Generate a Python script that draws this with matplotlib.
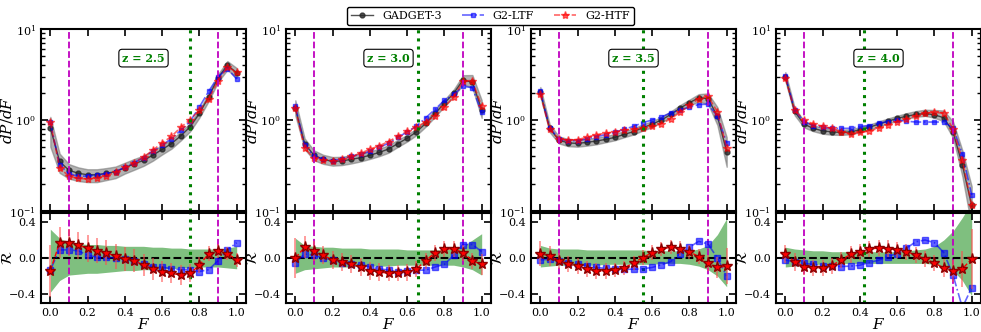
import numpy as np
import matplotlib
matplotlib.use("Agg")
import matplotlib.pyplot as plt

plt.rcParams['font.family'] = ['DejaVu Serif']
plt.rcParams['mathtext.fontset'] = 'dejavuserif'
plt.rcParams['axes.linewidth'] = 1.5

F = np.linspace(0.0, 1.0, 21)
redshifts = ['2.5', '3.0', '3.5', '4.0']
f_cut = [0.75, 0.66, 0.55, 0.42]

# dP/dF, z = 2.5
g3_z25 = [0.82, 0.35, 0.28, 0.26, 0.25, 0.25, 0.26, 0.27, 0.30, 0.33, 0.36, 0.41, 0.475, 0.55, 0.67, 0.84, 1.18, 1.8, 2.9, 4.0, 3.3]
ltf_z25 = [0.94, 0.32, 0.257, 0.24, 0.243, 0.248, 0.257, 0.27, 0.303, 0.34, 0.387, 0.456, 0.528, 0.625, 0.77, 0.966, 1.39, 2.07, 2.99, 3.67, 2.82]
htf_z25 = [0.95, 0.30, 0.24, 0.228, 0.225, 0.231, 0.245, 0.265, 0.303, 0.34, 0.39, 0.466, 0.56, 0.66, 0.83, 1.01, 1.28, 1.71, 2.69, 3.8, 3.37]
# dP/dF, z = 3.0
g3_z30 = [1.35, 0.55, 0.41, 0.37, 0.35, 0.355, 0.37, 0.385, 0.41, 0.44, 0.48, 0.55, 0.63, 0.74, 0.92, 1.18, 1.53, 1.97, 2.75, 2.6, 1.3]
ltf_z30 = [1.42, 0.526, 0.40, 0.37, 0.357, 0.374, 0.398, 0.418, 0.456, 0.50, 0.555, 0.647, 0.737, 0.856, 1.06, 1.31, 1.65, 1.91, 2.35, 2.26, 1.21]
htf_z30 = [1.35, 0.49, 0.38, 0.36, 0.357, 0.37, 0.40, 0.43, 0.477, 0.52, 0.58, 0.66, 0.75, 0.84, 0.95, 1.11, 1.39, 1.79, 2.65, 2.68, 1.42]
# dP/dF, z = 3.5
g3_z35 = [2.02, 0.81, 0.60, 0.56, 0.553, 0.568, 0.587, 0.612, 0.644, 0.695, 0.744, 0.823, 0.90, 1.0, 1.15, 1.35, 1.55, 1.75, 1.72, 1.1, 0.45]
ltf_z35 = [2.06, 0.82, 0.62, 0.59, 0.595, 0.62, 0.656, 0.69, 0.73, 0.794, 0.85, 0.935, 1.0, 1.08, 1.2, 1.29, 1.38, 1.48, 1.49, 1.1, 0.56]
htf_z35 = [1.93, 0.79, 0.62, 0.60, 0.61, 0.645, 0.69, 0.715, 0.74, 0.78, 0.79, 0.82, 0.85, 0.91, 1.03, 1.22, 1.45, 1.72, 1.82, 1.23, 0.49]
# dP/dF, z = 4.0
g3_z40 = [3.0, 1.24, 0.90, 0.81, 0.76, 0.74, 0.73, 0.74, 0.78, 0.83, 0.90, 0.97, 1.04, 1.10, 1.15, 1.18, 1.14, 1.06, 0.74, 0.32, 0.115]
ltf_z40 = [3.08, 1.29, 0.96, 0.87, 0.83, 0.81, 0.81, 0.81, 0.85, 0.87, 0.92, 0.96, 0.99, 0.97, 0.95, 0.95, 0.95, 0.95, 0.82, 0.42, 0.15]
htf_z40 = [2.88, 1.29, 0.99, 0.91, 0.85, 0.81, 0.745, 0.71, 0.73, 0.755, 0.81, 0.88, 0.96, 1.03, 1.11, 1.19, 1.21, 1.19, 0.80, 0.36, 0.116]

# residuals R
r_ltf_z25 = [-0.13, 0.09, 0.09, 0.08, 0.03, 0.01, 0.01, 0.0, -0.01, -0.03, -0.07, -0.1, -0.1, -0.12, -0.13, -0.13, -0.15, -0.13, -0.03, 0.09, 0.17]
r_htf_z25 = [-0.14, 0.17, 0.17, 0.14, 0.11, 0.08, 0.06, 0.02, -0.01, -0.03, -0.08, -0.12, -0.15, -0.17, -0.19, -0.17, -0.08, 0.05, 0.08, 0.05, -0.02]
e_htf_z25 = [0.29, 0.17, 0.15, 0.15, 0.15, 0.14, 0.14, 0.14, 0.13, 0.13, 0.12, 0.12, 0.12, 0.11, 0.11, 0.1, 0.09, 0.08, 0.08, 0.07, 0.08]
r_ltf_z30 = [-0.05, 0.045, 0.03, 0.0, -0.02, -0.05, -0.07, -0.08, -0.1, -0.12, -0.135, -0.15, -0.145, -0.135, -0.135, -0.1, -0.07, 0.03, 0.15, 0.15, 0.07]
r_htf_z30 = [0.0, 0.12, 0.08, 0.03, -0.02, -0.04, -0.07, -0.1, -0.14, -0.155, -0.17, -0.17, -0.16, -0.12, -0.03, 0.06, 0.1, 0.1, 0.06, -0.03, -0.07]
e_htf_z30 = [0.22, 0.12, 0.11, 0.1, 0.1, 0.1, 0.1, 0.1, 0.1, 0.1, 0.09, 0.09, 0.09, 0.09, 0.09, 0.09, 0.09, 0.09, 0.09, 0.09, 0.12]
r_ltf_z35 = [-0.02, -0.015, -0.035, -0.055, -0.07, -0.085, -0.105, -0.115, -0.12, -0.125, -0.125, -0.12, -0.105, -0.075, -0.04, 0.05, 0.12, 0.185, 0.155, 0.0, -0.2]
r_htf_z35 = [0.05, 0.02, -0.03, -0.07, -0.09, -0.12, -0.145, -0.145, -0.13, -0.11, -0.055, 0.005, 0.06, 0.1, 0.12, 0.105, 0.07, 0.015, -0.055, -0.105, -0.09]
e_htf_z35 = [0.14, 0.11, 0.09, 0.09, 0.09, 0.09, 0.09, 0.09, 0.08, 0.08, 0.08, 0.08, 0.08, 0.08, 0.08, 0.08, 0.08, 0.08, 0.09, 0.12, 0.2]
r_ltf_z40 = [-0.025, -0.04, -0.06, -0.07, -0.085, -0.09, -0.095, -0.09, -0.08, -0.05, -0.025, 0.015, 0.05, 0.11, 0.18, 0.2, 0.17, 0.06, -0.19, -0.55, -0.33]
r_htf_z40 = [0.04, -0.04, -0.095, -0.11, -0.11, -0.085, -0.02, 0.04, 0.07, 0.1, 0.11, 0.105, 0.085, 0.07, 0.035, -0.01, -0.055, -0.11, -0.145, -0.12, -0.01]
e_htf_z40 = [0.1, 0.1, 0.09, 0.09, 0.09, 0.09, 0.09, 0.09, 0.09, 0.09, 0.09, 0.09, 0.09, 0.09, 0.09, 0.09, 0.09, 0.1, 0.12, 0.2, 0.33]

# GADGET-3 scatter band
hi_z25 = [0.32, 0.22, 0.17, 0.16, 0.15, 0.15, 0.14, 0.14, 0.13, 0.13, 0.13, 0.12, 0.12, 0.11, 0.11, 0.1, 0.1, 0.1, 0.1, 0.11, 0.13]
lo_z25 = [-0.38, -0.25, -0.19, -0.18, -0.17, -0.17, -0.16, -0.15, -0.14, -0.14, -0.13, -0.13, -0.12, -0.12, -0.11, -0.11, -0.1, -0.1, -0.1, -0.11, -0.12]
hi_z30 = [0.22, 0.14, 0.13, 0.12, 0.12, 0.11, 0.11, 0.11, 0.1, 0.1, 0.1, 0.1, 0.09, 0.09, 0.09, 0.09, 0.09, 0.1, 0.13, 0.2, 0.27]
lo_z30 = [-0.17, -0.13, -0.12, -0.11, -0.1, -0.1, -0.1, -0.09, -0.09, -0.09, -0.09, -0.08, -0.08, -0.08, -0.08, -0.08, -0.08, -0.08, -0.1, -0.13, -0.19]
hi_z35 = [0.14, 0.11, 0.1, 0.1, 0.1, 0.09, 0.09, 0.09, 0.09, 0.09, 0.09, 0.09, 0.08, 0.08, 0.08, 0.08, 0.08, 0.1, 0.14, 0.26, 0.44]
lo_z35 = [-0.1, -0.09, -0.08, -0.08, -0.08, -0.08, -0.08, -0.07, -0.07, -0.07, -0.07, -0.07, -0.07, -0.06, -0.06, -0.06, -0.07, -0.09, -0.13, -0.2, -0.32]
hi_z40 = [0.12, 0.1, 0.09, 0.08, 0.08, 0.07, 0.07, 0.07, 0.07, 0.07, 0.07, 0.07, 0.07, 0.08, 0.09, 0.1, 0.13, 0.2, 0.3, 0.45, 0.62]
lo_z40 = [-0.1, -0.09, -0.08, -0.07, -0.07, -0.07, -0.06, -0.06, -0.06, -0.06, -0.06, -0.06, -0.06, -0.06, -0.06, -0.06, -0.07, -0.09, -0.14, -0.25, -0.42]

g3 = [g3_z25, g3_z30, g3_z35, g3_z40]
ltf = [ltf_z25, ltf_z30, ltf_z35, ltf_z40]
htf = [htf_z25, htf_z30, htf_z35, htf_z40]
r_ltf = [r_ltf_z25, r_ltf_z30, r_ltf_z35, r_ltf_z40]
r_htf = [r_htf_z25, r_htf_z30, r_htf_z35, r_htf_z40]
e_htf = [e_htf_z25, e_htf_z30, e_htf_z35, e_htf_z40]
band_hi = [hi_z25, hi_z30, hi_z35, hi_z40]
band_lo = [lo_z25, lo_z30, lo_z35, lo_z40]

fig = plt.figure(figsize=(9.81, 3.32), dpi=100)
W, H = 981.0, 332.0
lefts = [41, 286, 531, 776]
pw = 205


def style(ax):
    ax.tick_params(which='both', direction='in', top=True, right=True, labelsize=8)
    ax.tick_params(which='major', length=5, width=1.2)
    ax.tick_params(which='minor', length=3, width=1.0)


for i in range(4):
    x0 = lefts[i] / W
    ax = fig.add_axes([x0, 1 - 211 / H, pw / W, (211 - 29) / H])
    bx = fig.add_axes([x0, 1 - 303 / H, pw / W, (303 - 213) / H])

    m = np.array(g3[i])
    lo = np.array(band_lo[i])
    hi = np.array(band_hi[i])
    ax.fill_between(F, m * (1 + lo), m * (1 + hi), color='0.45', alpha=0.55, lw=1)
    ax.plot(F, m, '-o', color='0.15', ms=3.5, lw=1, alpha=0.8, label='GADGET-3')
    ax.plot(F, ltf[i], '-.s', color='blue', ms=3.5, lw=1.2, alpha=0.6, label='G2-LTF')
    ax.plot(F, htf[i], '--*', color='red', ms=6, lw=1.2, alpha=0.6, label='G2-HTF')
    for xv in (0.1, 0.9):
        ax.axvline(xv, color='m', ls='--', lw=1.3)
        bx.axvline(xv, color='m', ls='--', lw=1.3)
    ax.axvline(f_cut[i], color='green', ls=':', lw=2.2)
    bx.axvline(f_cut[i], color='green', ls=':', lw=2.2)
    ax.set_yscale('log')
    ax.set_ylim(0.1, 10)
    ax.set_xlim(-0.05, 1.05)
    ax.set_xticks(np.arange(0, 1.01, 0.2))
    ax.set_xticklabels([])
    ax.set_ylabel(r'$dP/dF$', fontsize=11)
    ax.yaxis.set_label_coords(-0.125, 0.5)
    style(ax)
    ax.text(0.5, 0.84, 'z = ' + redshifts[i], transform=ax.transAxes, ha='center', va='center',
            color='green', fontsize=8, fontweight='bold',
            bbox=dict(boxstyle='round,pad=0.3', fc='white', ec='black', lw=0.8))

    bx.fill_between(F, lo, hi, color='green', alpha=0.5, lw=0)
    bx.axhline(0.0, color='k', ls='--', lw=1.5)
    bx.plot(F, r_ltf[i], '-.s', color='blue', ms=4, lw=1.2, alpha=0.6)
    bx.errorbar(F, r_htf[i], yerr=e_htf[i], fmt='--*', color='red', mec='darkred', mfc='red',
                ms=8, lw=1, elinewidth=1.3, ecolor=(1, 0.3, 0.3, 0.6), capsize=0)
    bx.set_xlim(-0.05, 1.05)
    bx.set_ylim(-0.5, 0.5)
    bx.set_xticks(np.arange(0, 1.01, 0.2))
    bx.set_yticks([-0.4, 0.0, 0.4])
    bx.set_xlabel(r'$F$', fontsize=11)
    bx.xaxis.set_label_coords(0.5, -0.16)
    bx.set_ylabel(r'$\mathcal{R}$', fontsize=11)
    bx.yaxis.set_label_coords(-0.125, 0.5)
    style(bx)

h, l = ax.get_legend_handles_labels()
fig.legend(h, l, loc='upper center', bbox_to_anchor=(0.5, 0.995), ncol=3, fontsize=8,
           fancybox=True, edgecolor='k', framealpha=1, handlelength=2, columnspacing=1.8,
           borderpad=0.35, handletextpad=0.8)

fig.savefig('out.png', dpi=100)
